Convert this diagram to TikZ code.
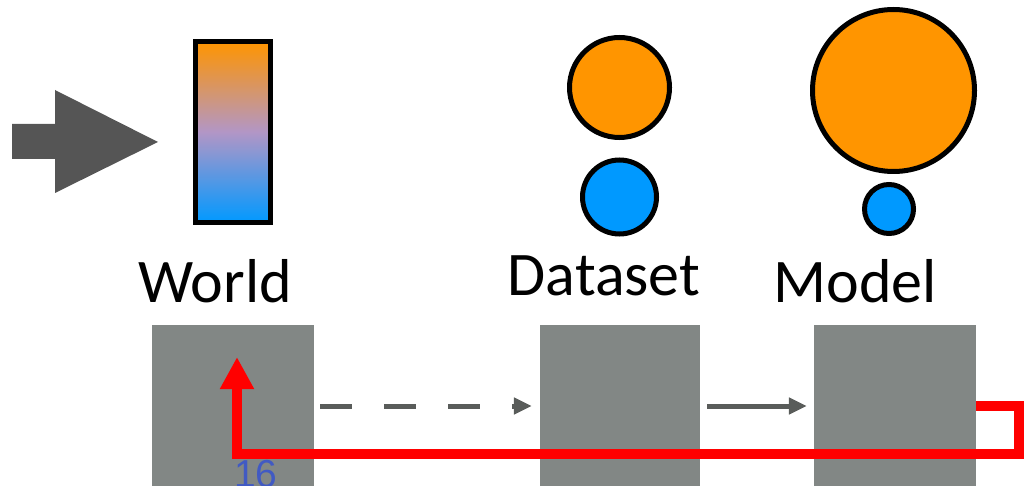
\documentclass[tikz,border=0pt]{standalone}
\usepackage{fontspec}
\setmainfont{Carlito}
\newfontfamily\numfont{Liberation Sans}
\usetikzlibrary{arrows.meta}

\definecolor{stagegray}{RGB}{130,135,133}
\definecolor{linkgray}{RGB}{89,92,90}
\definecolor{pushgray}{RGB}{85,85,85}
\definecolor{ballorange}{RGB}{255,149,0}
\definecolor{ballblue}{RGB}{0,153,255}
\definecolor{midlilac}{RGB}{178,150,198}
\definecolor{pagenum}{RGB}{65,90,195}

\begin{document}
\begin{tikzpicture}[
        x=1pt, y=-1pt,
        stage/.style={rectangle, fill=stagegray, minimum height=162pt, inner sep=0pt},
        ball/.style={circle, draw=black, line width=5pt, inner sep=0pt},
        title/.style={font=\fontsize{62}{70}\selectfont, anchor=base, inner sep=0pt},
        link/.style={draw=linkgray, line width=5pt, -{Triangle[length=18pt, width=16pt]}},
        feedback/.style={draw=red, line width=10pt, line join=miter, -{Triangle[length=32pt, width=32pt]}}
    ]
        \useasboundingbox (0,0) rectangle (1024,486);

        % Big arrow pointing at the world bar
        \fill[pushgray] (12,124) -- (55,124) -- (55,90) -- (158,142) -- (55,193) -- (55,159) -- (12,159) -- cycle;

        % Top row: world bar and the two pairs of balls
        \node [rectangle, draw=black, line width=5pt, minimum width=75pt, minimum height=181pt, inner sep=0pt,
               top color=ballorange, bottom color=ballblue, middle color=midlilac] (bar) at (233,132) {};
        \node [ball, fill=ballorange, minimum size=100pt] (dorange) at (619.5,87.5) {};
        \node [ball, fill=ballblue, minimum size=74pt] (dblue) at (619.5,197) {};
        \node [ball, fill=ballorange, minimum size=162pt] (morange) at (893.5,90.5) {};
        \node [ball, fill=ballblue, minimum size=49pt] (mblue) at (889,209) {};

        % Titles
        \node [title] (worldtxt) at (215,302) {World};
        \node [title] (datatxt) at (604,295) {Dataset};
        \node [title] (modeltxt) at (855,302) {Model};

        % Bottom row of stages
        \node [stage, minimum width=162pt] (world) at (233,406) {};
        \node [stage, minimum width=160pt] (data) at (620,406) {};
        \node [stage, minimum width=162pt] (model) at (895,406) {};

        % Edges
        \path [link, dash pattern=on 32pt off 32pt, shorten <=6pt, shorten >=8pt] (world) -- (data);
        \path [link, shorten <=7pt, shorten >=7pt] (data) -- (model);

        % Loop back from the model into the world
        \coordinate (back) at (237,454);
        \coordinate (tip) at (237,357);
        \path [feedback] (model.east) -- ++(43,0) |- (back) -- (tip);

        \node [anchor=base west, inner sep=0pt, text=pagenum, font=\numfont\fontsize{39}{44}\selectfont] (num) at (234,487) {16};
    \end{tikzpicture}
\end{document}
